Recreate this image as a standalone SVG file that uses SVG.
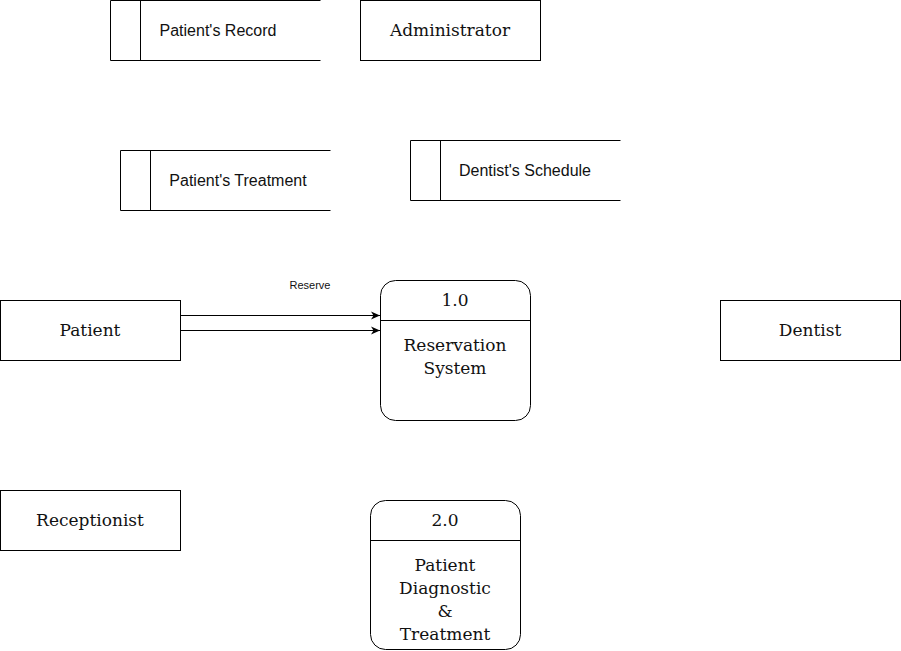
<svg xmlns="http://www.w3.org/2000/svg" width="901" height="651" viewBox="0 0 901 651">
<style>
.b{fill:#fff;stroke:#000;stroke-width:1}
.l{fill:none;stroke:#000;stroke-width:1}
.s{font-family:"DejaVu Serif","Liberation Serif",serif;font-size:17px;fill:#111;text-anchor:middle;dominant-baseline:central}
.a{font-family:"Liberation Sans",Arial,sans-serif;font-size:16px;fill:#111;text-anchor:middle;dominant-baseline:central}
.lab{font-family:"Liberation Sans",Arial,sans-serif;font-size:11px;fill:#111;text-anchor:middle;dominant-baseline:central}
</style>
<defs>
<marker id="ar" markerWidth="10" markerHeight="10" refX="9" refY="5" orient="auto" markerUnits="userSpaceOnUse">
<path d="M0,1 L9,5 L0,9 L2.5,5 Z" fill="#000"/>
</marker>
</defs>
<rect width="901" height="651" fill="#fff"/>
<g id="connectors">
<line class="l" x1="180.5" y1="315.5" x2="380" y2="315.5" marker-end="url(#ar)"/>
<line class="l" x1="180.5" y1="330.5" x2="380" y2="330.5" marker-end="url(#ar)"/>
<text class="lab" x="310" y="285">Reserve</text>
</g>
<g id="patients-record">
<path class="l" d="M320.5,0.5 H110.5 V60.5 H320.5 M140.5,0.5 V60.5"/>
<text class="a" x="218" y="30">Patient's Record</text>
</g>
<g id="administrator">
<rect class="b" x="360.5" y="0.5" width="180" height="60"/>
<text class="s" x="450" y="30">Administrator</text>
</g>
<g id="patients-treatment">
<path class="l" d="M330.5,150.5 H120.5 V210.5 H330.5 M150.5,150.5 V210.5"/>
<text class="a" x="238" y="180">Patient's Treatment</text>
</g>
<g id="dentists-schedule">
<path class="l" d="M620.5,140.5 H410.5 V200.5 H620.5 M440.5,140.5 V200.5"/>
<text class="a" x="525" y="170">Dentist's Schedule</text>
</g>
<g id="patient">
<rect class="b" x="0.5" y="300.5" width="180" height="60"/>
<text class="s" x="90" y="330">Patient</text>
</g>
<g id="dentist">
<rect class="b" x="720.5" y="300.5" width="180" height="60"/>
<text class="s" x="810" y="330">Dentist</text>
</g>
<g id="receptionist">
<rect class="b" x="0.5" y="490.5" width="180" height="60"/>
<text class="s" x="90" y="520">Receptionist</text>
</g>
<g id="process-1">
<rect class="b" x="380.5" y="280.5" width="150" height="140" rx="15" ry="15"/>
<line class="l" x1="380.5" y1="320.5" x2="530.5" y2="320.5"/>
<text class="s" x="455" y="300">1.0</text>
<text class="s" x="455" y="345">Reservation</text>
<text class="s" x="455" y="368">System</text>
</g>
<g id="process-2">
<rect class="b" x="370.5" y="500.5" width="150" height="149" rx="15" ry="15"/>
<line class="l" x1="370.5" y1="540.5" x2="520.5" y2="540.5"/>
<text class="s" x="445" y="520">2.0</text>
<text class="s" x="445" y="565">Patient</text>
<text class="s" x="445" y="588">Diagnostic</text>
<text class="s" x="445" y="611">&amp;</text>
<text class="s" x="445" y="634">Treatment</text>
</g>
</svg>
